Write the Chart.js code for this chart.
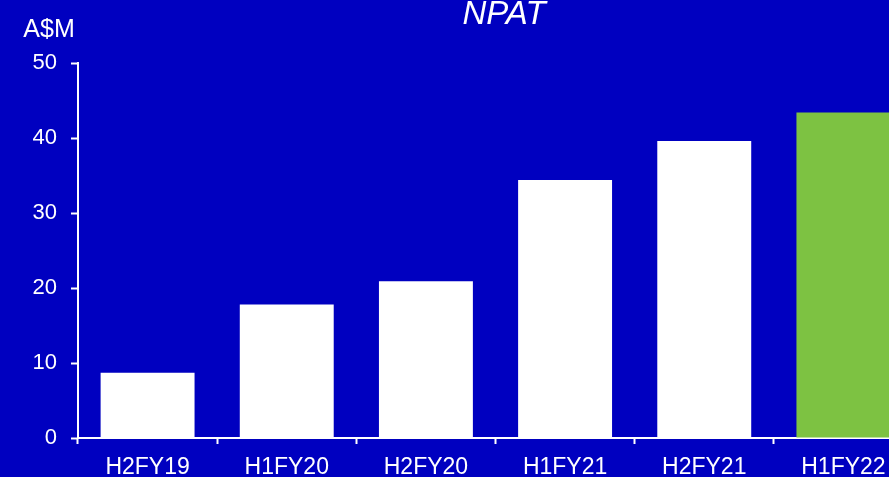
<!DOCTYPE html>
<html>
<head>
<meta charset="utf-8">
<script src="https://cdn.jsdelivr.net/npm/chart.js@4"></script>
<style>
  html, body { margin: 0; padding: 0; overflow: hidden; background: #0000C0; }
  #wrap { position: relative; width: 940px; height: 500px; }
</style>
</head>
<body>
<div id="wrap"><canvas id="c"></canvas></div>
<script>
// Half-year net profit after tax, A$ millions
const periods = ['H2FY19', 'H1FY20', 'H2FY20', 'H1FY21', 'H2FY21', 'H1FY22'];
const npat = [8.7, 17.8, 20.9, 34.4, 39.6, 43.4];
const yTicks = [0, 10, 20, 30, 40, 50];
const chartTitle = 'NPAT';
const unitLabel = 'A$M';

const WHITE = '#FFFFFF';
const GREEN = '#7DC242';
const FONT = '"Liberation Sans", Arial, sans-serif';

const barColors = periods.map((p, i) => i === periods.length - 1 ? GREEN : WHITE);

// Title and unit label drawn onto the canvas
const headerText = {
  id: 'headerText',
  afterDraw(chart) {
    const ctx = chart.ctx;
    const area = chart.chartArea;
    ctx.save();
    ctx.fillStyle = WHITE;
    ctx.textBaseline = 'alphabetic';
    ctx.textAlign = 'center';
    ctx.font = 'italic 33px ' + FONT;
    ctx.fillText(chartTitle, 504, 24);
    ctx.font = '25px ' + FONT;
    ctx.fillText(unitLabel, area.left - 29, 37);
    ctx.restore();
  }
};

new Chart(document.getElementById('c'), {
  type: 'bar',
  data: {
    labels: periods,
    datasets: [{
      data: npat,
      backgroundColor: barColors,
      borderWidth: 0,
      categoryPercentage: 1.0,
      barPercentage: 0.675
    }]
  },
  options: {
    responsive: true,
    maintainAspectRatio: false,
    animation: false,
    layout: { padding: { top: 63, right: 27, bottom: 0, left: 0 } },
    plugins: {
      legend: { display: false },
      tooltip: { enabled: false },
      title: { display: false }
    },
    scales: {
      x: {
        offset: true,
        grid: {
          offset: true,
          drawOnChartArea: false,
          drawTicks: true,
          tickLength: 6,
          tickWidth: 2,
          tickColor: WHITE
        },
        border: { display: true, color: WHITE, width: 2 },
        ticks: {
          color: WHITE,
          font: { family: FONT, size: 23 },
          padding: 10,
          maxRotation: 0,
          autoSkip: false
        },
        afterFit(scale) { scale.height = 62; }
      },
      y: {
        min: yTicks[0],
        max: yTicks[yTicks.length - 1],
        afterBuildTicks(scale) { scale.ticks = yTicks.map(v => ({ value: v })); },
        grid: {
          drawOnChartArea: false,
          drawTicks: true,
          tickLength: 7,
          tickWidth: 2,
          tickColor: WHITE
        },
        border: { display: true, color: WHITE, width: 2 },
        ticks: {
          color: WHITE,
          font: { family: FONT, size: 22 },
          padding: 14
        },
        afterFit(scale) { scale.width = 78; }
      }
    }
  },
  plugins: [headerText]
});
</script>
</body>
</html>
